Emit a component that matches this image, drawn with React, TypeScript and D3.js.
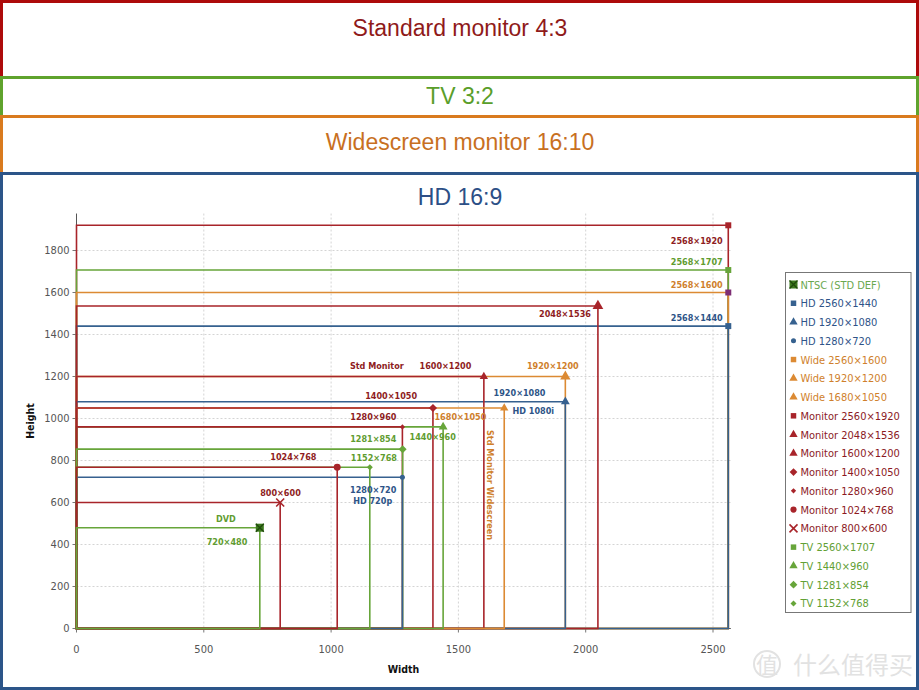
import React from "react";
import * as d3 from "d3";

const W = 919;
const H = 690;

// ---- data ----
const seriesNames = [
  "NTSC (STD DEF)",
  "HD 2560×1440",
  "HD 1920×1080",
  "HD 1280×720",
  "Wide 2560×1600",
  "Wide 1920×1200",
  "Wide 1680×1050",
  "Monitor 2560×1920",
  "Monitor 2048×1536",
  "Monitor 1600×1200",
  "Monitor 1400×1050",
  "Monitor 1280×960",
  "Monitor 1024×768",
  "Monitor 800×600",
  "TV 2560×1707",
  "TV 1440×960",
  "TV 1281×854",
  "TV 1152×768",
];
const seriesGroups = [
  "ntsc", "hd", "hd", "hd", "wide", "wide", "wide",
  "mon", "mon", "mon", "mon", "mon", "mon", "mon",
  "tv", "tv", "tv", "tv",
];
const resWidths = [720, 2560, 1920, 1280, 2560, 1920, 1680, 2560, 2048, 1600, 1400, 1280, 1024, 800, 2560, 1440, 1281, 1152];
const resHeights = [480, 1440, 1080, 720, 1600, 1200, 1050, 1920, 1536, 1200, 1050, 960, 768, 600, 1707, 960, 854, 768];
const markerKinds = [
  "boxx", "square", "triangle", "circle", "square", "triangle", "triangle",
  "square", "triangle", "triangle", "diamond", "diamond", "circle", "x",
  "square", "triangle", "diamond", "diamond",
];

const xTicks = [0, 500, 1000, 1500, 2000, 2500];
const yTicks = [0, 200, 400, 600, 800, 1000, 1200, 1400, 1600, 1800];

const headerTitles = ["Standard monitor 4:3", "TV 3:2", "Widescreen monitor 16:10", "HD 16:9"];
const headerGroups = ["mon", "tv", "wide", "hd"];

// annotation texts, anchored on a series corner
const annotationTexts = [
  "2568×1920", "2568×1707", "2568×1600", "2568×1440", "2048×1536",
  "Std Monitor", "1600×1200", "1920×1200", "1920×1080", "HD 1080i",
  "1400×1050", "1280×960", "1680×1050", "1281×854", "1440×960",
  "1024×768", "1152×768", "1280×720", "HD 720p", "800×600",
  "DVD", "720×480",
];
const annotationSeries = [7, 14, 4, 1, 8, 9, 9, 5, 2, 2, 10, 11, 6, 16, 15, 12, 17, 3, 3, 13, 0, 0];

// ---- styles ----
const lineColor: Record<string, string> = {
  mon: "#a8242a",
  tv: "#67a53a",
  ntsc: "#67a53a",
  wide: "#dc8a33",
  hd: "#36618f",
};
const labelColor: Record<string, string> = {
  mon: "#8e1c22",
  tv: "#5f9c30",
  ntsc: "#5f9c30",
  wide: "#cf7f2c",
  hd: "#2d5487",
};
const legendColor: Record<string, string> = {
  mon: "#8c1a1f",
  tv: "#62a034",
  ntsc: "#6aa84f",
  wide: "#cf7f2c",
  hd: "#2e5388",
};
const boxColor: Record<string, string> = {
  mon: "#ad0b0b",
  tv: "#5fa32d",
  wide: "#d97a1e",
  hd: "#2c5589",
};
const headerText: Record<string, string> = {
  mon: "#8f1a1a",
  tv: "#5a9e2a",
  wide: "#c8701f",
  hd: "#2c4f86",
};
const markerSize = [64, 36, 34, 20, 36, 46, 30, 36, 50, 30, 34, 14, 38, 7, 36, 34, 32, 18];
const markerOverride: Record<number, string> = { 4: "#7e2e74", 0: "#3d7a1e" };

// annotation offsets (px) from anchor corner, plus text anchor
const annOffsets: [number, number, string][] = [
  [-5.6, 18.2, "end"], [-5.6, -5.5, "end"], [-5.6, -4.5, "end"], [-5.6, -5, "end"], [-7, 10.6, "end"],
  [-107, -7.5, "middle"], [-38.4, -7.5, "middle"], [-12.5, -7.5, "middle"], [-45.8, -6, "middle"], [-32, 11.8, "middle"],
  [-41.8, -9.5, "middle"], [-29, -7.4, "middle"], [-43.8, 11.5, "middle"], [-29.4, -6.7, "middle"], [-10.4, 13.1, "middle"],
  [-43.8, -7.2, "middle"], [4.1, -6.4, "middle"], [-29.2, 15.2, "middle"], [-29.7, 26.2, "middle"], [0.3, -7, "middle"],
  [-34, -6.2, "middle"], [-32.8, 16.8, "middle"],
];

const condensed = "'DejaVu Sans Condensed', 'DejaVu Sans', sans-serif";

const x = d3.scaleLinear().domain([0, 2570]).range([76.5, 76.5 + 2570 * 0.2546]);
const y = d3.scaleLinear().domain([0, 1976]).range([628.5, 628.5 - 1976 * 0.21]);

function Marker({ kind, size, color, cx, cy }: { kind: string; size: number; color: string; cx: number; cy: number }) {
  if (kind === "x") {
    const r = 4;
    return (
      <path
        d={`M${cx - r},${cy - r}L${cx + r},${cy + r}M${cx - r},${cy + r}L${cx + r},${cy - r}`}
        stroke={color}
        strokeWidth={1.6}
        fill="none"
      />
    );
  }
  if (kind === "boxx") {
    const r = 4;
    return (
      <g>
        <rect x={cx - r} y={cy - r} width={2 * r} height={2 * r} fill={color} />
        <path
          d={`M${cx - r},${cy - r}L${cx + r},${cy + r}M${cx - r},${cy + r}L${cx + r},${cy - r}`}
          stroke="#1f4a0c"
          strokeWidth={1.3}
        />
      </g>
    );
  }
  if (kind === "diamond") {
    const d = d3.symbol().type(d3.symbolSquare).size(size)() || "";
    return <path d={d} transform={`translate(${cx},${cy}) rotate(45)`} fill={color} />;
  }
  const type = kind === "square" ? d3.symbolSquare : kind === "triangle" ? d3.symbolTriangle : d3.symbolCircle;
  const d = d3.symbol().type(type).size(size)() || "";
  return <path d={d} transform={`translate(${cx},${cy})`} fill={color} />;
}

export default function App() {
  const order = d3.range(resWidths.length).sort((a, b) => resWidths[b] * resHeights[b] - resWidths[a] * resHeights[a]);
  const boxTops = [1.5, 77.5, 116.5, 173.5];
  const headerBaselines = [36, 104, 150, 205];

  const plotTop = y.range()[1];
  const plotBottom = y.range()[0];
  const plotLeft = x.range()[0];
  const plotRight = x.range()[1];

  const legendX = 785.5;
  const legendY = 272.5;
  const legendStep = 18.76;

  return (
    <svg width={W} height={H} style={{ position: "absolute", left: 0, top: 0, background: "#fff" }}>
      <rect x={0} y={0} width={W} height={H} fill="#fff" />
      {/* nested header boxes */}
      {headerGroups.map((g, i) => (
        <rect
          key={g}
          x={1.5}
          y={boxTops[i]}
          width={W - 3}
          height={H - 1.5 - boxTops[i]}
          fill="#fff"
          stroke={boxColor[g]}
          strokeWidth={3}
        />
      ))}
      {headerTitles.map((t, i) => (
        <text
          key={t}
          x={460}
          y={headerBaselines[i]}
          textAnchor="middle"
          fontFamily="'Liberation Sans', Arial, sans-serif"
          fontSize={23}
          fill={headerText[headerGroups[i]]}
        >
          {t}
        </text>
      ))}

      {/* grid */}
      {xTicks.filter((t) => t > 0).map((t) => (
        <line key={"gx" + t} x1={x(t)} x2={x(t)} y1={plotTop} y2={plotBottom} stroke="#d4d4d4" strokeDasharray="2,2" />
      ))}
      {yTicks.filter((t) => t > 0).map((t) => (
        <line key={"gy" + t} x1={plotLeft} x2={plotRight} y1={y(t)} y2={y(t)} stroke="#d4d4d4" strokeDasharray="2,2" />
      ))}

      {/* axes */}
      <line x1={plotLeft} x2={plotLeft} y1={plotTop} y2={plotBottom} stroke="#555" />
      <line x1={plotLeft} x2={plotRight} y1={plotBottom} y2={plotBottom} stroke="#555" />
      {yTicks.map((t) => (
        <g key={"yt" + t}>
          <line x1={plotLeft - 4} x2={plotLeft} y1={y(t)} y2={y(t)} stroke="#777" />
          <text x={plotLeft - 7} y={y(t)} dy="0.35em" textAnchor="end" fontFamily={condensed} fontSize={11} fill="#555">
            {t}
          </text>
        </g>
      ))}
      {xTicks.map((t) => (
        <g key={"xt" + t}>
          <line x1={x(t)} x2={x(t)} y1={plotBottom} y2={plotBottom + 4} stroke="#777" />
          <text x={x(t)} y={652.5} textAnchor="middle" fontFamily={condensed} fontSize={11} fill="#555">
            {t}
          </text>
        </g>
      ))}
      <text x={403.5} y={673} textAnchor="middle" fontFamily={condensed} fontWeight="bold" fontSize={10.5} fill="#111">
        Width
      </text>
      <text
        transform={`translate(34,421) rotate(-90)`}
        textAnchor="middle"
        fontFamily={condensed}
        fontWeight="bold"
        fontSize={10.5}
        fill="#111"
      >
        Height
      </text>

      {/* resolution rectangles */}
      {order.map((i) => {
        const path = d3.path();
        path.moveTo(x(0), y(0));
        path.lineTo(x(0), y(resHeights[i]));
        path.lineTo(x(resWidths[i]), y(resHeights[i]));
        path.lineTo(x(resWidths[i]), y(0));
        path.closePath();
        return (
          <path key={"r" + i} d={path.toString()} fill="none" stroke={lineColor[seriesGroups[i]]} strokeWidth={1.6} />
        );
      })}
      {order.map((i) => (
        <Marker
          key={"m" + i}
          kind={markerKinds[i]}
          size={markerSize[i]}
          color={markerOverride[i] || lineColor[seriesGroups[i]]}
          cx={x(resWidths[i])}
          cy={y(resHeights[i])}
        />
      ))}

      {/* annotations */}
      {annotationTexts.map((t, k) => {
        const s = annotationSeries[k];
        const [dx, dy, anchor] = annOffsets[k];
        const grp = seriesGroups[s];
        return (
          <text
            key={"a" + k}
            x={x(resWidths[s]) + dx}
            y={y(resHeights[s]) + dy}
            textAnchor={anchor as any}
            fontFamily={condensed}
            fontWeight="bold"
            fontSize={9}
            fill={labelColor[grp]}
          >
            {t}
          </text>
        );
      })}
      <text
        transform={`translate(${x(resWidths[9]) + 3.6},485) rotate(90)`}
        textAnchor="middle"
        fontFamily={condensed}
        fontWeight="bold"
        fontSize={9}
        fill={labelColor.wide}
      >
        Std Monitor Widescreen
      </text>

      {/* legend */}
      <rect x={legendX} y={legendY} width={125.5} height={340} fill="#fff" stroke="#777" strokeWidth={1} />
      {seriesNames.map((n, i) => {
        const cy = 288.5 + i * legendStep - 4;
        const grp = seriesGroups[i];
        return (
          <g key={"l" + i}>
            <Marker
              kind={markerKinds[i]}
              size={Math.min(markerSize[i], 30)}
              color={markerOverride[i] && i === 0 ? markerOverride[i] : lineColor[grp]}
              cx={793.5}
              cy={cy}
            />
            <text x={800.5} y={288.5 + i * legendStep} fontFamily={condensed} fontSize={11} fill={legendColor[grp]}>
              {n}
            </text>
          </g>
        );
      })}

      {/* watermark */}
      <circle cx={767} cy={664} r={13} fill="none" stroke="#e2e2e2" strokeWidth={2} />
      <text x={767} y={673} textAnchor="middle" fontFamily="'Noto Sans CJK SC', sans-serif" fontSize={22} fill="#e2e2e2">
        值
      </text>
      <text x={793} y={674} fontFamily="'Noto Sans CJK SC', sans-serif" fontSize={24} fill="#e2e2e2">
        什么值得买
      </text>
    </svg>
  );
}
